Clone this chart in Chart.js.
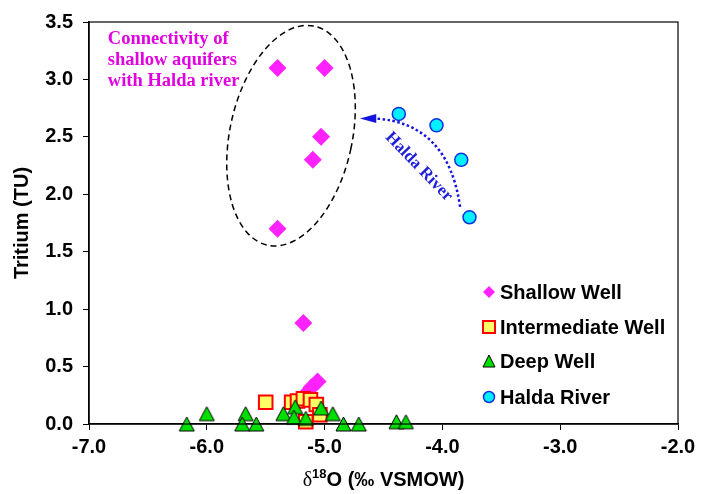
<!DOCTYPE html>
<html>
<head>
<meta charset="utf-8">
<script src="https://cdn.jsdelivr.net/npm/chart.js@4/dist/chart.umd.min.js"></script>
<style>
  html, body { margin: 0; padding: 0; background: #fff; }
  #wrap { width: 703px; height: 494px; }
</style>
</head>
<body>
<div id="wrap"><canvas id="c" width="703" height="494"></canvas></div>
<script>
// ---- data: δ18O (‰ VSMOW) against tritium (TU) ----
const shallowD18O   = [-5.40, -5.00, -5.03, -5.10, -5.40, -5.18, -5.18, -5.15, -5.11, -5.06];
const shallowTU     = [ 3.10,  3.10,  2.50,  2.30,  1.70,  0.88,  0.23,  0.27,  0.32,  0.37];

const intermD18O    = [-5.50, -5.28, -5.23, -5.18, -5.12, -5.07, -5.04, -5.16];
const intermTU      = [ 0.19,  0.19,  0.20,  0.22,  0.21,  0.17,  0.08,  0.02];

const deepD18O      = [-6.17, -6.00, -5.67, -5.70, -5.58, -5.35, -5.25, -5.26, -5.16, -5.03, -4.93, -4.84, -4.71, -4.39, -4.31];
const deepTU        = [ 0.00,  0.09,  0.09,  0.00,  0.00,  0.09,  0.15,  0.06,  0.05,  0.14,  0.09,  0.00,  0.00,  0.02,  0.02];

const riverD18O     = [-4.37, -4.05, -3.84, -3.77];
const riverTU       = [ 2.70,  2.60,  2.30,  1.80];

const seriesNames   = ['Shallow Well', 'Intermediate Well', 'Deep Well', 'Halda River'];
const xTicks        = [-7, -6, -5, -4, -3, -2];
const yTicks        = [0, 0.5, 1, 1.5, 2, 2.5, 3, 3.5];

const toPoints = (xs, ys) => xs.map((x, i) => ({ x, y: ys[i] }));

// ---- styling ----
const SANS  = "'Liberation Sans', Arial, Helvetica, sans-serif";
const SERIF = "'Liberation Serif', 'Times New Roman', serif";
const MAGENTA_MARK = '#FF22FF';
const MAGENTA_TEXT = '#E000E0';
const BLUE_TEXT = '#2020D8';

// triangle marker whose bounding box is centred on the point
function triangleImage(w, h, fill, stroke, lw) {
  const pad = 2;
  const c = document.createElement('canvas');
  c.width = Math.ceil(w + pad * 2);
  c.height = Math.ceil(h + pad * 2);
  const g = c.getContext('2d');
  const ox = (c.width - w) / 2, oy = (c.height - h) / 2;
  g.beginPath();
  g.moveTo(ox + w / 2, oy);
  g.lineTo(ox + w, oy + h);
  g.lineTo(ox, oy + h);
  g.closePath();
  g.fillStyle = fill;
  g.fill();
  g.lineWidth = lw;
  g.lineJoin = 'round';
  g.strokeStyle = stroke;
  g.stroke();
  return c;
}
const deepMarker = triangleImage(15, 14, '#00E000', '#000000', 1);
const deepLegendMarker = triangleImage(12, 12, '#00E000', '#000000', 1);

// ---- annotation geometry, in data units ----
const groupEllipse = { x: -5.285, y: 2.51, rx: 0.52, ry: 0.975, tiltDeg: 12 };
const flowArrow = {
  start: { x: -3.85, y: 1.89 },
  ctrl:  { x: -3.95, y: 2.62 },
  end:   { x: -4.57, y: 2.66 },
  tip:   { x: -4.70, y: 2.66 }
};
const riverLabel = { text: 'Halda River', x: -4.20, y: 2.24, angleDeg: 46 };
const groupNote = {
  lines: ['Connectivity of', 'shallow aquifers', 'with Halda river'],
  x: -6.84, y: 3.31, lineGap: 21
};

const annotations = {
  id: 'annotations',
  afterDatasetsDraw(chart) {
    const { ctx, scales: { x, y } } = chart;
    const px = v => x.getPixelForValue(v);
    const py = v => y.getPixelForValue(v);

    // dashed ellipse round the shallow-well group
    ctx.save();
    ctx.beginPath();
    const e = groupEllipse;
    const rxPx = Math.abs(px(e.x + e.rx) - px(e.x));
    const ryPx = Math.abs(py(e.y + e.ry) - py(e.y));
    ctx.ellipse(px(e.x), py(e.y), rxPx, ryPx, e.tiltDeg * Math.PI / 180, 0, Math.PI * 2);
    ctx.setLineDash([6, 4]);
    ctx.lineWidth = 1.5;
    ctx.strokeStyle = '#000';
    ctx.stroke();
    ctx.restore();

    // dotted flow arrow
    const a = flowArrow;
    ctx.save();
    ctx.beginPath();
    ctx.moveTo(px(a.start.x), py(a.start.y));
    ctx.quadraticCurveTo(px(a.ctrl.x), py(a.ctrl.y), px(a.end.x), py(a.end.y));
    ctx.setLineDash([2.5, 2.5]);
    ctx.lineWidth = 2.5;
    ctx.strokeStyle = '#1414E0';
    ctx.stroke();
    ctx.setLineDash([]);
    const tx = px(a.tip.x), ty = py(a.tip.y);
    const ex = px(a.end.x), ey = py(a.end.y);
    const ang = Math.atan2(ty - ey, tx - ex);
    const len = Math.hypot(tx - ex, ty - ey) + 1;
    const half = 4.5;
    ctx.beginPath();
    ctx.moveTo(tx, ty);
    ctx.lineTo(tx - len * Math.cos(ang) - half * Math.sin(ang), ty - len * Math.sin(ang) + half * Math.cos(ang));
    ctx.lineTo(tx - len * Math.cos(ang) + half * Math.sin(ang), ty - len * Math.sin(ang) - half * Math.cos(ang));
    ctx.closePath();
    ctx.fillStyle = '#1414E0';
    ctx.fill();
    ctx.restore();

    // rotated river label
    ctx.save();
    ctx.translate(px(riverLabel.x), py(riverLabel.y));
    ctx.rotate(riverLabel.angleDeg * Math.PI / 180);
    ctx.font = 'bold 17px ' + SERIF;
    ctx.fillStyle = BLUE_TEXT;
    ctx.textAlign = 'center';
    ctx.textBaseline = 'middle';
    ctx.fillText(riverLabel.text, 0, 0);
    ctx.restore();

    // note on aquifer connectivity
    ctx.save();
    ctx.font = 'bold 18.5px ' + SERIF;
    ctx.fillStyle = MAGENTA_TEXT;
    ctx.textAlign = 'left';
    ctx.textBaseline = 'alphabetic';
    groupNote.lines.forEach((t, i) => {
      ctx.fillText(t, px(groupNote.x), py(groupNote.y) + i * groupNote.lineGap);
    });
    ctx.restore();
  }
};

// plot frame, axis titles and legend
const frame = {
  id: 'frame',
  afterDraw(chart) {
    const { ctx, chartArea: ca } = chart;
    ctx.save();
    ctx.strokeStyle = '#000';
    ctx.lineWidth = 1.2;
    ctx.strokeRect(ca.left, ca.top, ca.right - ca.left, ca.bottom - ca.top);
    ctx.restore();

    // y title
    ctx.save();
    ctx.translate(22, (ca.top + ca.bottom) / 2);
    ctx.rotate(-Math.PI / 2);
    ctx.font = 'bold 20px ' + SANS;
    ctx.fillStyle = '#000';
    ctx.textAlign = 'center';
    ctx.textBaseline = 'middle';
    ctx.fillText('Tritium (TU)', 0, 0);
    ctx.restore();

    // x title with superscript
    ctx.save();
    const parts = [
      { t: 'δ', font: '20px ' + SERIF, dy: 0 },
      { t: '18', font: 'bold 13px ' + SANS, dy: -8 },
      { t: 'O (‰ VSMOW)', font: 'bold 20px ' + SANS, dy: 0 }
    ];
    let total = 0;
    parts.forEach(p => { ctx.font = p.font; p.w = ctx.measureText(p.t).width; total += p.w; });
    let cx = (ca.left + ca.right) / 2 - total / 2;
    const base = 486;
    ctx.fillStyle = '#000';
    ctx.textAlign = 'left';
    ctx.textBaseline = 'alphabetic';
    parts.forEach(p => { ctx.font = p.font; ctx.fillText(p.t, cx, base + p.dy); cx += p.w; });
    ctx.restore();

    // legend
    ctx.save();
    const lx = 489, rows = [292, 327, 361, 397];
    ctx.font = 'bold 20px ' + SANS;
    ctx.textBaseline = 'middle';
    ctx.textAlign = 'left';
    // diamond
    ctx.beginPath();
    ctx.moveTo(lx, rows[0] - 6); ctx.lineTo(lx + 6, rows[0]); ctx.lineTo(lx, rows[0] + 6); ctx.lineTo(lx - 6, rows[0]);
    ctx.closePath();
    ctx.fillStyle = MAGENTA_MARK; ctx.fill();
    // square
    ctx.fillStyle = '#FFFF66';
    ctx.fillRect(lx - 6, rows[1] - 6, 12, 12);
    ctx.strokeStyle = '#FF0000'; ctx.lineWidth = 2;
    ctx.strokeRect(lx - 6, rows[1] - 6, 12, 12);
    // triangle
    ctx.drawImage(deepLegendMarker, lx - deepLegendMarker.width / 2, rows[2] - deepLegendMarker.height / 2);
    // circle
    ctx.beginPath();
    ctx.arc(lx, rows[3], 5.5, 0, Math.PI * 2);
    ctx.fillStyle = '#00F0FF'; ctx.fill();
    ctx.strokeStyle = '#1030E0'; ctx.lineWidth = 1.5; ctx.stroke();
    ctx.fillStyle = '#000';
    seriesNames.forEach((n, i) => ctx.fillText(n, 500, rows[i] + 1));
    ctx.restore();
  }
};

Chart.defaults.color = '#000';
Chart.defaults.font.family = SANS;

new Chart(document.getElementById('c'), {
  type: 'scatter',
  data: {
    datasets: [
      {
        label: seriesNames[0], data: toPoints(shallowD18O, shallowTU), order: 4, clip: false,
        pointStyle: 'rectRot', pointRadius: 9, pointHoverRadius: 9,
        backgroundColor: MAGENTA_MARK, borderColor: MAGENTA_MARK, borderWidth: 0
      },
      {
        label: seriesNames[1], data: toPoints(intermD18O, intermTU), order: 3, clip: false,
        pointStyle: 'rect', pointRadius: 9.6, pointHoverRadius: 9.6,
        backgroundColor: '#FFFF66', borderColor: '#FF0000', borderWidth: 2
      },
      {
        label: seriesNames[2], data: toPoints(deepD18O, deepTU), order: 2, clip: false,
        pointStyle: deepMarker, pointRadius: 8, pointHoverRadius: 8
      },
      {
        label: seriesNames[3], data: toPoints(riverD18O, riverTU), order: 1, clip: false,
        pointStyle: 'circle', pointRadius: 6.5, pointHoverRadius: 6.5,
        backgroundColor: '#00F0FF', borderColor: '#1030E0', borderWidth: 1.5
      }
    ]
  },
  options: {
    responsive: false,
    animation: false,
    layout: { padding: { top: 15, right: 25, left: 0, bottom: 0 } },
    plugins: { legend: { display: false }, tooltip: { enabled: false } },
    scales: {
      x: {
        type: 'linear', min: xTicks[0], max: xTicks[xTicks.length - 1],
        afterBuildTicks: s => { s.ticks = xTicks.map(v => ({ value: v })); },
        afterFit: s => { s.height = 70; },
        ticks: { callback: v => Number(v).toFixed(1), font: { size: 20, weight: 'bold' }, color: '#000', padding: 5, maxRotation: 0 },
        grid: { drawOnChartArea: false, drawTicks: true, tickLength: 6, color: '#000', lineWidth: 1 },
        border: { display: true, color: '#000', width: 1.5 }
      },
      y: {
        type: 'linear', min: yTicks[0], max: yTicks[yTicks.length - 1],
        afterBuildTicks: s => { s.ticks = yTicks.map(v => ({ value: v })); },
        afterFit: s => { s.width = 89; },
        ticks: { callback: v => Number(v).toFixed(1), font: { size: 20, weight: 'bold' }, color: '#000', padding: 10 },
        grid: { drawOnChartArea: false, drawTicks: true, tickLength: 6, color: '#000', lineWidth: 1 },
        border: { display: true, color: '#000', width: 1.5 }
      }
    }
  },
  plugins: [annotations, frame]
});
</script>
</body>
</html>
